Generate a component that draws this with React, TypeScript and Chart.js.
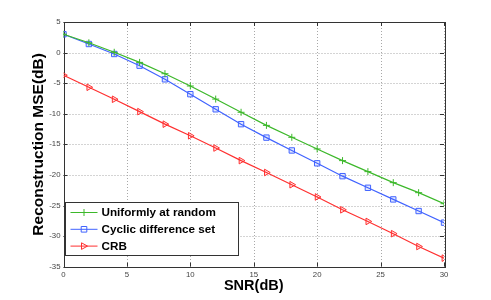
import React, { useEffect, useRef } from "react";
import { Chart, registerables } from "chart.js";

Chart.register(...registerables);

const snr = [0, 2, 4, 6, 8, 10, 12, 14, 16, 18, 20, 22, 24, 26, 28, 30];
const uniformMSE = [3.0, 1.6, 0.05, -1.6, -3.45, -5.46, -7.6, -9.76, -11.9, -13.85, -15.75, -17.66, -19.46, -21.26, -22.9, -24.7];
const cyclicMSE = [3.0, 1.4, -0.23, -2.14, -4.37, -6.8, -9.27, -11.7, -13.9, -16.0, -18.1, -20.2, -22.1, -24.0, -25.9, -27.8];
const crbMSE = [-3.7, -5.67, -7.63, -9.65, -11.7, -13.6, -15.6, -17.66, -19.6, -21.6, -23.6, -25.7, -27.6, -29.6, -31.7, -33.6];
const seriesNames = ["Uniformly at random", "Cyclic difference set", "CRB"];
const xTitle = "SNR(dB)";
const yTitle = "Reconstruction MSE(dB)";

const FONT = "'Liberation Sans', Arial, Helvetica, sans-serif";
const GREEN = "#3cb82a";
const BLUE = "#4063ff";
const RED = "#ff3030";

function drawMarker(ctx: CanvasRenderingContext2D, style: string, x: number, y: number, color: string) {
  ctx.save();
  ctx.strokeStyle = color;
  ctx.lineWidth = 1;
  ctx.beginPath();
  if (style === "cross") {
    ctx.moveTo(x - 3.5, y);
    ctx.lineTo(x + 3.5, y);
    ctx.moveTo(x, y - 3.5);
    ctx.lineTo(x, y + 3.5);
  } else if (style === "rect") {
    ctx.rect(x - 2.8, y - 2.8, 5.6, 5.6);
  } else {
    ctx.moveTo(x + 3.5, y);
    ctx.lineTo(x - 2.5, y - 3.3);
    ctx.lineTo(x - 2.5, y + 3.3);
    ctx.closePath();
  }
  ctx.stroke();
  ctx.restore();
}

const framePlugin = {
  id: "frame",
  beforeDatasetsDraw(chart: any) {
    const { ctx, chartArea: a, scales } = chart;
    ctx.save();
    // dotted grid
    ctx.strokeStyle = "#a8a8a8";
    ctx.lineWidth = 1;
    ctx.setLineDash([1, 2]);
    ctx.beginPath();
    scales.x.ticks.forEach((t: any) => {
      const px = Math.round(scales.x.getPixelForValue(t.value)) + 0.5;
      ctx.moveTo(px, a.top);
      ctx.lineTo(px, a.bottom);
    });
    scales.y.ticks.forEach((t: any) => {
      const py = Math.round(scales.y.getPixelForValue(t.value)) + 0.5;
      ctx.moveTo(a.left, py);
      ctx.lineTo(a.right, py);
    });
    ctx.stroke();
    ctx.setLineDash([]);
    // frame
    ctx.strokeStyle = "#333";
    ctx.strokeRect(Math.round(a.left) + 0.5, Math.round(a.top) + 0.5, Math.round(a.right - a.left), Math.round(a.bottom - a.top));
    ctx.beginPath();
    const tl = 4;
    scales.x.ticks.forEach((t: any) => {
      const px = Math.round(scales.x.getPixelForValue(t.value)) + 0.5;
      ctx.moveTo(px, a.top);
      ctx.lineTo(px, a.top + tl);
      ctx.moveTo(px, a.bottom);
      ctx.lineTo(px, a.bottom - tl);
    });
    scales.y.ticks.forEach((t: any) => {
      const py = Math.round(scales.y.getPixelForValue(t.value)) + 0.5;
      ctx.moveTo(a.left, py);
      ctx.lineTo(a.left + tl, py);
      ctx.moveTo(a.right, py);
      ctx.lineTo(a.right - tl, py);
    });
    ctx.stroke();
    ctx.restore();
  },
};

const legendPlugin = {
  id: "innerLegend",
  afterDraw(chart: any) {
    const { ctx, chartArea: a } = chart;
    const left = Math.round(a.left) + 1.5;
    const w = 173;
    const h = 53;
    const top = Math.round(a.bottom) - 12 - h + 0.5;
    ctx.save();
    ctx.fillStyle = "#fff";
    ctx.fillRect(left, top, w, h);
    ctx.strokeStyle = "#333";
    ctx.lineWidth = 1;
    ctx.strokeRect(left, top, w, h);
    chart.data.datasets.forEach((ds: any, i: number) => {
      const y = top + 10 + i * 16.8;
      ctx.strokeStyle = ds.borderColor;
      ctx.lineWidth = 1;
      ctx.beginPath();
      ctx.moveTo(left + 5, y);
      ctx.lineTo(left + 32, y);
      ctx.stroke();
      drawMarker(ctx, ds.pointStyle, left + 18.5, y, ds.borderColor);
      ctx.fillStyle = "#000";
      ctx.font = `bold 11.7px ${FONT}`;
      ctx.textBaseline = "middle";
      ctx.textAlign = "left";
      ctx.fillText(ds.label, left + 36, y + 0.5);
    });
    ctx.restore();
  },
};

export default function App() {
  const ref = useRef<HTMLCanvasElement>(null);
  useEffect(() => {
    document.body.style.margin = "0";
    const mk = (ys: number[]) => snr.map((x, i) => ({ x, y: ys[i] }));
    const chart = new Chart(ref.current!, {
      type: "line",
      data: {
        datasets: [
          {
            label: seriesNames[0],
            data: mk(uniformMSE),
            borderColor: GREEN,
            backgroundColor: GREEN,
            borderWidth: 1.2,
            pointStyle: "cross",
            pointRadius: 3.5,
            pointBorderWidth: 1,
          },
          {
            label: seriesNames[1],
            data: mk(cyclicMSE),
            borderColor: BLUE,
            backgroundColor: "rgba(64,99,255,0.15)",
            borderWidth: 1.2,
            pointStyle: "rect",
            pointRadius: 3.8,
            pointBorderWidth: 1,
          },
          {
            label: seriesNames[2],
            data: mk(crbMSE),
            borderColor: RED,
            backgroundColor: "rgba(255,48,48,0.1)",
            borderWidth: 1.2,
            pointStyle: "triangle",
            rotation: 90,
            pointRadius: 3.8,
            pointBorderWidth: 1,
          },
        ],
      },
      options: {
        responsive: false,
        animation: false,
        layout: { padding: { top: 22, right: 47, left: 25, bottom: 0 } },
        plugins: { legend: { display: false }, tooltip: { enabled: false } },
        scales: {
          x: {
            type: "linear",
            min: 0,
            max: 30,
            afterFit(s: any) {
              s.height = 33.3;
            },
            ticks: { stepSize: 5, color: "#444", font: { family: FONT, size: 7.8 }, padding: 3, maxRotation: 0 },
            grid: { display: false, drawTicks: false },
            border: { display: false },
            title: { display: true, text: xTitle, color: "#000", font: { family: FONT, size: 14.5, weight: "bold" }, padding: { top: 0, bottom: 5 } },
          },
          y: {
            min: -35,
            max: 5,
            afterFit(s: any) {
              s.width = 38.5;
            },
            ticks: { stepSize: 5, color: "#444", font: { family: FONT, size: 7.8 }, padding: 3 },
            grid: { display: false, drawTicks: false },
            border: { display: false },
            title: { display: true, text: yTitle, color: "#000", font: { family: FONT, size: 15.5, weight: "bold" }, padding: { top: 4, bottom: 0 } },
          },
        },
      },
      plugins: [framePlugin, legendPlugin],
    } as any);
    return () => chart.destroy();
  }, []);
  return (
    <div style={{ position: "fixed", left: 0, top: 0, width: 491, height: 300, background: "#fff" }}>
      <canvas ref={ref} width={491} height={300} />
    </div>
  );
}
